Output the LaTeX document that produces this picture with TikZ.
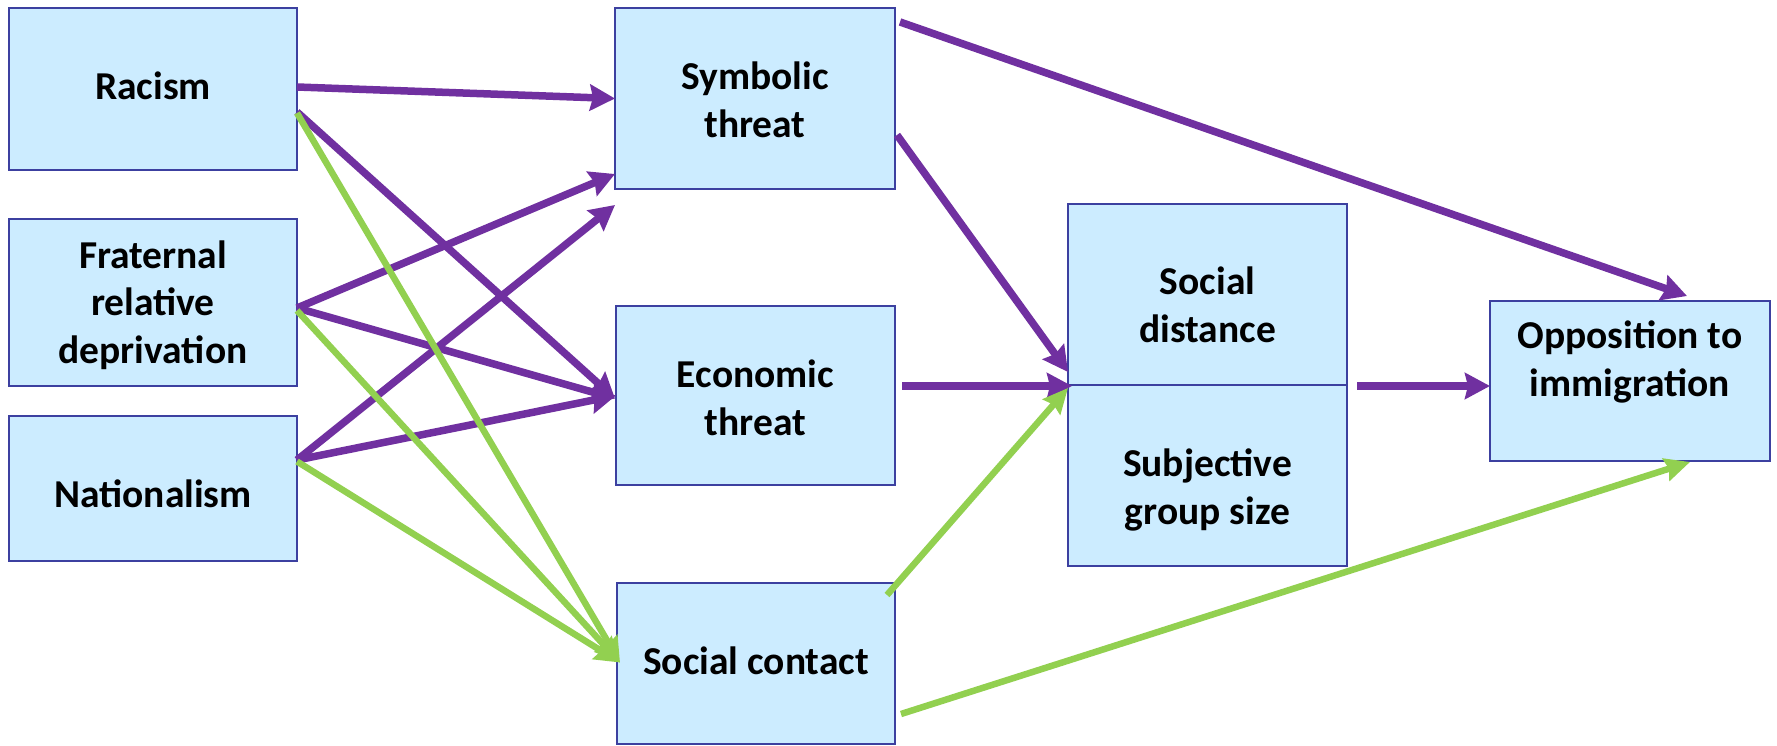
\documentclass[tikz,border=0pt]{standalone}
\usepackage{fontspec}
\setmainfont{Carlito}
\usetikzlibrary{arrows.meta,calc}
\definecolor{boxfill}{HTML}{CCECFF}
\definecolor{boxline}{RGB}{60,64,160}
\definecolor{purp}{HTML}{7030A0}
\definecolor{grn}{HTML}{92D050}
\begin{document}
\begin{tikzpicture}[x=1pt,y=-1pt,
  box/.style={draw=boxline,fill=boxfill,line width=2pt,inner sep=0pt,outer sep=0pt,minimum width=#1},
  lbl/.style={font=\fontsize{39.5}{47.5}\selectfont\bfseries,align=center,inner sep=0pt},
  parr/.style={draw=purp,line width=7.5pt,-{Stealth[length=25pt,width=26pt,inset=3pt]}},
  garr/.style={draw=grn,line width=6.5pt,-{Stealth[length=25pt,width=23pt,inset=3pt]}}]
\useasboundingbox (0,0) rectangle (1777,746);
% boxes
\node[box=288pt,minimum height=162pt] (racism) at (153,89) {};
\node[box=288pt,minimum height=167pt] (frat) at (153,302.5) {};
\node[box=288pt,minimum height=145pt] (nat) at (153,488.5) {};
\node[box=280pt,minimum height=181pt] (sym) at (755,98.5) {};
\node[box=279pt,minimum height=179pt] (eco) at (755.5,395.5) {};
\node[box=278pt,minimum height=161pt] (con) at (756,663.5) {};
\node[box=279pt,minimum height=181pt] (sd) at (1207.5,294.5) {};
\node[box=279pt,minimum height=181pt] (sg) at (1207.5,475.5) {};
\node[box=280pt,minimum height=160pt] (opp) at (1630,381) {};
% texts
\node[lbl] (racism-t) at (153,86) {Racism};
\node[lbl] (frat-t) at (153,305) {Fraternal\\relative\\deprivation};
\node[lbl] (nat-t) at (153,494) {Nationalism};
\node[lbl] (sym-t) at (755,100) {Symbolic\\threat};
\node[lbl] (eco-t) at (755.5,398) {Economic\\threat};
\node[lbl] (con-t) at (756,661) {Social contact};
\node[lbl] (sd-t) at (1207.5,305) {Social\\distance};
\node[lbl] (sg-t) at (1207.5,490) {Subjective\\group size};
\node[lbl] (opp-t) at (1630,362) {Opposition to\\immigration};
% purple arrows
\draw[parr] ($(racism.east)+(0,-2)$) -- (sym.west);
\draw[parr] ($(racism.east)+(0,23)$) -- ($(eco.west)+(-1,3)$);
\draw[parr] ($(frat.east)+(0,5.5)$) -- ($(sym.south west)+(0,-15)$);
\draw[parr] ($(frat.east)+(0,5.5)$) -- ($(eco.west)+(-1,3)$);
\draw[parr] ($(nat.east)+(0,-28.5)$) -- ($(sym.south west)+(0,16)$);
\draw[parr] ($(nat.east)+(0,-28.5)$) -- (eco.west);
\draw[parr] ($(sym.east)+(2,36.5)$) -- ($(sd.south west)+(0,-13)$);
\draw[parr] ($(sym.north east)+(5,14)$) -- ($(opp.north)+(57,-5)$);
\draw[parr] ($(eco.east)+(7,-9.5)$) -- ($(sd.south west)+(4,1)$);
\draw[parr] ($(sd.south east)+(10,1)$) -- ($(opp.west)+(0,5)$);
% green arrows
\draw[garr] ($(racism.east)+(0,24)$) -- ($(con.west)+(3,-1)$);
\draw[garr] ($(frat.east)+(0,8)$) -- ($(con.west)+(3,-1)$);
\draw[garr] ($(nat.east)+(0,-27)$) -- ($(con.west)+(3,-1)$);
\draw[garr] ($(con.north east)+(-8,12)$) -- ($(sd.south west)+(0,3)$);
\draw[garr] ($(con.east)+(6,50.5)$) -- ($(opp.south)+(60,1)$);
\end{tikzpicture}
\end{document}
